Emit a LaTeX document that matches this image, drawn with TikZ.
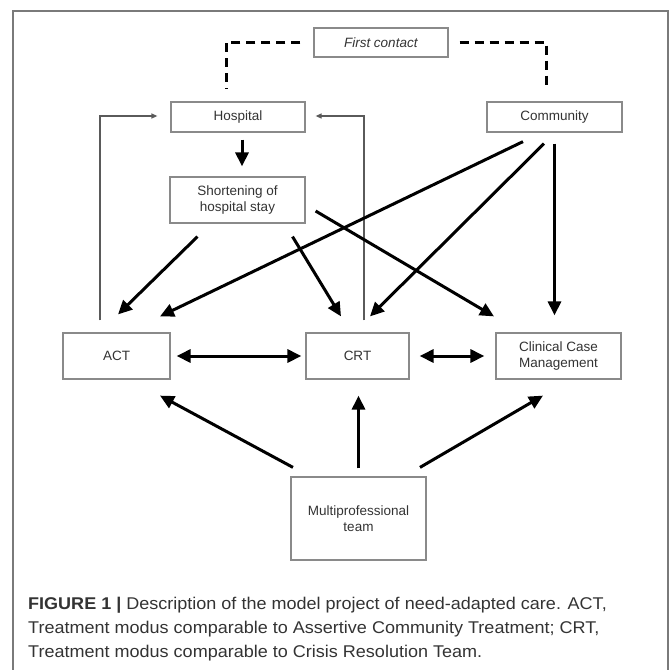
\documentclass[tikz,border=0pt]{standalone}
\usepackage{fontspec}
\setmainfont{Liberation Sans}
\newfontfamily\captionfont[FakeStretch=1.06]{Liberation Sans}
\usetikzlibrary{arrows.meta,calc,positioning}
\definecolor{boxgray}{HTML}{8A8A8A}
\definecolor{framegray}{HTML}{7A7A7A}
\definecolor{txtgray}{HTML}{333333}
\definecolor{thingray}{HTML}{5A5A5A}
\tikzset{
	x=1pt,y=-1pt,
	bigarrow/.style={-{Triangle[length=14pt,width=13pt]},line width=3pt},
	bothways/.style={{Triangle[length=14pt,width=13pt]}-{Triangle[length=14pt,width=13pt]},line width=3pt},
	backarrow/.style={-{Triangle[length=6pt,width=5pt]},line width=1.2pt,draw=thingray},
	contactline/.style={line width=3pt,dash pattern=on 9pt off 6pt}
}

\begin{document}
\begin{tikzpicture}[font=\fontsize{13.5}{16.5}\selectfont]
		\tikzstyle{format} = [draw=boxgray, line width=1.2pt, rectangle,
		inner sep=0pt, align=center, text=txtgray]
		\useasboundingbox (0,0) rectangle (669,670);
		\draw[framegray, line width=1.5pt] (13,672) |- (668,11) -- (668,672);
		\path
		node[format, minimum width=134pt, minimum height=29pt] (first) at (381,42.5) {\textit{First contact}}
		node[format, minimum width=134pt, minimum height=30pt] (hosp) at (238,117) {Hospital}
		node[format, minimum width=135pt, minimum height=30pt] (comm) at (554.5,117) {Community}
		node[format, minimum width=135pt, minimum height=46pt] (short) at (237.5,200) {Shortening of\\hospital stay}
		node[format, minimum width=107pt, minimum height=46pt] (act) at (116.5,356) {ACT}
		node[format, minimum width=103pt, minimum height=46pt] (crt) at (357.5,356) {CRT}
		node[format, minimum width=125pt, minimum height=46pt] (ccm) at (558.5,356) {Clinical Case\\Management}
		node[format, minimum width=135pt, minimum height=83pt] (multi) at (358.5,518.5) {Multiprofessional\\team}
		node[anchor=north west, inner sep=0pt, align=left, text=txtgray,
		font=\captionfont\fontsize{17}{24}\selectfont] (caption) at (28,597)
		{\textbf{FIGURE 1 |} Description of the model project of need-adapted care. ACT,\\
		Treatment modus comparable to Assertive Community Treatment; CRT,\\
		Treatment modus comparable to Crisis Resolution Team.};
		% first contact
		\draw[contactline] ([shift={(-13,0)}]first.west) -| ([shift={(-12,-12)}]hosp.north);
		\draw[contactline] ([shift={(11,0)}]first.east) -| ([shift={(-8,-14)}]comm.north);
		% back to hospital
		\draw[backarrow] ([shift={(-16.5,-12)}]act.north) |- ([shift={(-13,-1)}]hosp.west);
		\draw[backarrow] ([shift={(6.5,-12)}]crt.north) |- ([shift={(10,-1)}]hosp.east);
		\path
		([shift={(4,7)}]hosp.south) edge[bigarrow] ([shift={(4.5,-10)}]short.north)
		([shift={(-40,13)}]short.south) edge[bigarrow] ([shift={(1.5,-18)}]act.north)
		([shift={(55,13)}]short.south) edge[bigarrow] ([shift={(-16.5,-16)}]crt.north)
		([shift={(10,11)}]short.east) edge[bigarrow] ([shift={(-64.5,-16)}]ccm.north)
		([shift={(-31.5,9)}]comm.south) edge[bigarrow] ([shift={(43.5,-16)}]act.north)
		([shift={(-10.5,11)}]comm.south) edge[bigarrow] ([shift={(12.5,-16)}]crt.north)
		([shift={(0,11)}]comm.south) edge[bigarrow] ([shift={(-4,-17)}]ccm.north)
		([shift={(6,0)}]act.east) edge[bothways] ([shift={(-4,0)}]crt.west)
		([shift={(10,0)}]crt.east) edge[bothways] ([shift={(-11,0)}]ccm.west)
		([shift={(-65.5,-9)}]multi.north) edge[bigarrow] ([shift={(43.5,16)}]act.south)
		([shift={(0,-8)}]multi.north) edge[bigarrow] ([shift={(1,16)}]crt.south)
		([shift={(61.5,-9)}]multi.north) edge[bigarrow] ([shift={(-15.5,16)}]ccm.south);
	    \end{tikzpicture}
\end{document}
